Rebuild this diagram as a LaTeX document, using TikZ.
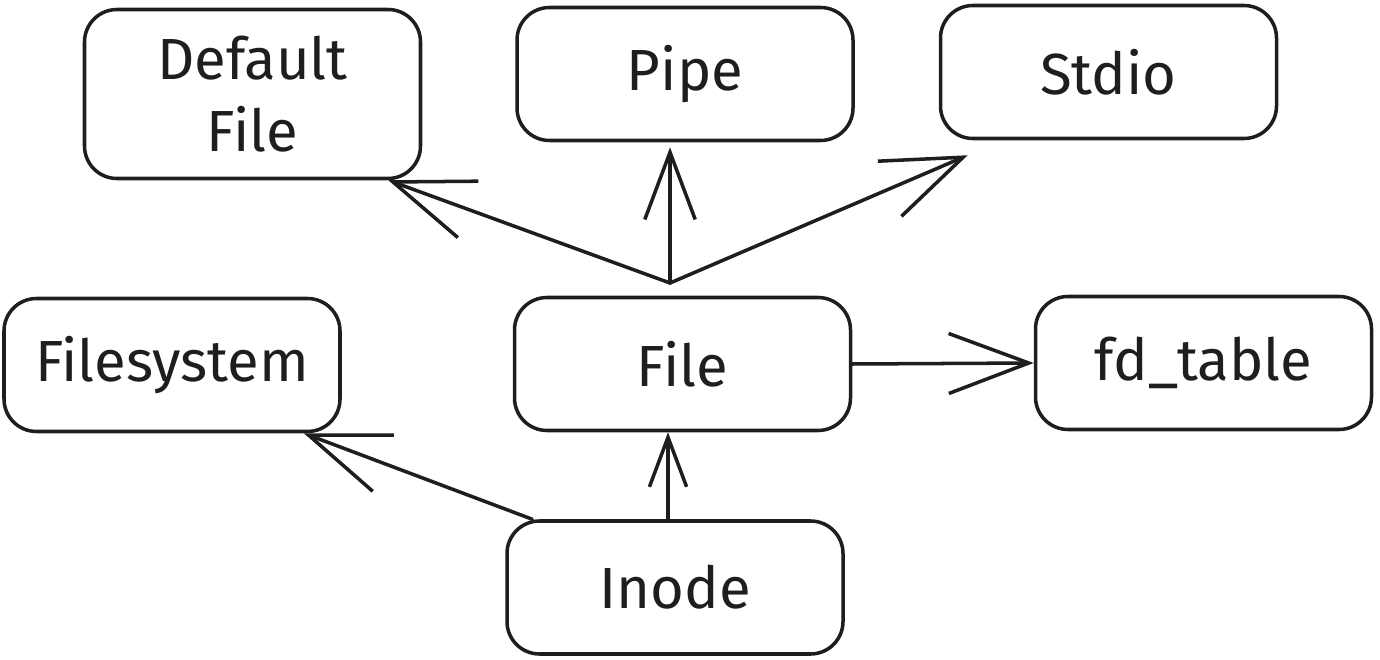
\documentclass[tikz,border=0pt]{standalone}
\usepackage{fontspec}
\setmainfont{Fira Sans}
\usetikzlibrary{arrows.meta}
\definecolor{ink}{HTML}{1E1E1E}

\begin{document}
\begin{tikzpicture}[
    every node/.style={font=\fontsize{33}{41}\selectfont, text=ink},
    box/.style={draw=ink, line width=2pt, rounded corners=0.65cm,
      minimum width=6.72cm, minimum height=2.66cm, align=center},
    link/.style={draw=ink, line width=2pt, line cap=round, line join=round,
      -{Straight Barb[length=1.6cm,width=1.2cm,scale=#1]}},
    link/.default=1
  ]
    \useasboundingbox (0,0) rectangle (27.6,-13.2);
    \node[box, minimum height=3.38cm] (dflt) at (5.05,-1.88) {Default\\File};
    \foreach \name/\x/\y/\txt in {pipe/13.7/-1.48/Pipe, stdio/22.17/-1.44/Stdio,
      fs/3.44/-7.3/Filesystem, file/13.65/-7.28/File,
      fdt/24.07/-7.26/fd\_table, inode/13.5/-11.75/Inode}{
      \node[box] (\name) at (\x,\y) {\txt};
    }
    \coordinate (fork) at (13.4,-5.66);
    \draw[link] (fork) -- ([xshift=-0.68cm]dflt.south east);
    \draw[link=0.84] (fork) -- ([yshift=-0.1cm]fork |- pipe.south);
    \draw[link] (fork) -- ([xshift=0.58cm,yshift=-0.3cm]stdio.south west);
    \draw[link] (file.east) -- (fdt.west);
    \draw[link=0.62] ([xshift=-0.14cm]inode.north) -- ([xshift=-0.14cm]inode.north |- file.south);
    \draw[link] ([xshift=0.54cm]inode.north west) -- ([xshift=-0.76cm]fs.south east);
  \end{tikzpicture}
\end{document}
